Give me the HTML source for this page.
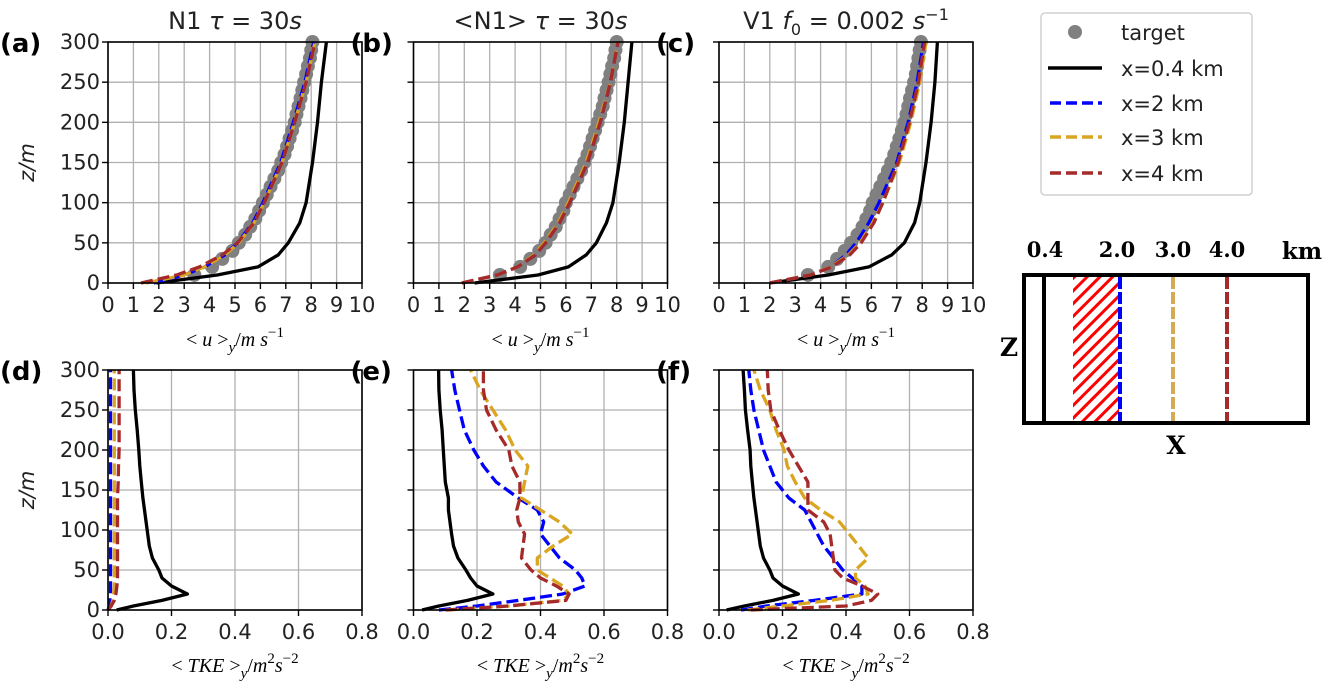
<!DOCTYPE html>
<html><head><meta charset="utf-8">
<style>
html,body{margin:0;padding:0;background:#fff;}
svg{display:block;}
text{font-family:"DejaVu Sans","Liberation Sans",sans-serif;}
.serif{font-family:"DejaVu Serif","Liberation Serif",serif;}
</style></head>
<body>
<svg id="fig" width="1323" height="689" viewBox="0 0 1323 689" xmlns="http://www.w3.org/2000/svg">
<defs>
<pattern id="hatch" patternUnits="userSpaceOnUse" width="9" height="9" patternTransform="rotate(45)">
<rect width="9" height="9" fill="#fff"/><rect width="3" height="9" fill="#ff0000"/>
</pattern>
</defs>
<g>
<rect x="1041" y="13" width="211" height="182" rx="4" fill="#fff" stroke="#d0d0d0" stroke-width="1.5"/>
<circle cx="1075" cy="32" r="7" fill="#808080"/>
<text x="1121" y="40" font-size="21" fill="#222">target</text>
<line x1="1048" y1="68" x2="1102" y2="68" stroke="#000" stroke-width="3.5"/>
<text x="1121" y="76" font-size="21" fill="#222">x=0.4 km</text>
<line x1="1050" y1="103" x2="1102" y2="103" stroke="#0000ff" stroke-width="3.5" stroke-dasharray="11,5"/>
<text x="1121" y="111" font-size="21" fill="#222">x=2 km</text>
<line x1="1050" y1="137" x2="1102" y2="137" stroke="#daa520" stroke-width="3.5" stroke-dasharray="11,5"/>
<text x="1121" y="145" font-size="21" fill="#222">x=3 km</text>
<line x1="1050" y1="173" x2="1102" y2="173" stroke="#a52a2a" stroke-width="3.5" stroke-dasharray="11,5"/>
<text x="1121" y="181" font-size="21" fill="#222">x=4 km</text>
</g>
<g>
<rect x="1073" y="276" width="46" height="146" fill="url(#hatch)"/>
<rect x="1024" y="275" width="284" height="148" fill="none" stroke="#000" stroke-width="4"/>
<line x1="1044" y1="275" x2="1044" y2="423" stroke="#000" stroke-width="4"/>
<line x1="1120" y1="277" x2="1120" y2="421" stroke="#0000ff" stroke-width="4" stroke-dasharray="12,3"/>
<line x1="1173" y1="277" x2="1173" y2="421" stroke="#d4aa55" stroke-width="4" stroke-dasharray="12,3"/>
<line x1="1227" y1="277" x2="1227" y2="421" stroke="#a52a2a" stroke-width="4" stroke-dasharray="12,3"/>
<g font-weight="bold" font-size="21" text-anchor="middle" fill="#000">
<text x="1045" y="257" class="serif">0.4</text>
<text x="1117" y="257" class="serif">2.0</text>
<text x="1173" y="257" class="serif">3.0</text>
<text x="1227" y="257" class="serif">4.0</text>
<text x="1302" y="259" class="serif" font-size="23">km</text>
<text x="1009" y="356" class="serif" font-size="25">Z</text>
<text x="1176" y="454" class="serif" font-size="25">X</text>
</g>
</g>
</svg>
<script>
// ---- data ----
const zTop = [0,10,20,35,50,75,100,150,200,250,300];
const zTarget = [10,20,30,40,50,60,70,80,90,100,110,120,130,140,150,160,170,180,190,200,210,220,230,240,250,260,270,280,290,300];
const zBot = [0,5,12,20,30,40,50,65,80,95,110,125,140,160,180,200,225,250,275,300];
const uTicks = [0,1,2,3,4,5,6,7,8,9,10];
const tkeTicks = [0.0,0.2,0.4,0.6,0.8];
const tkeTickLabels = ["0.0","0.2","0.4","0.6","0.8"];
const zTicks = [0,50,100,150,200,250,300];

const aTarget = [3.4,4.1,4.5,4.9,5.15,5.4,5.6,5.8,5.95,6.1,6.25,6.4,6.55,6.7,6.82,6.95,7.05,7.15,7.25,7.35,7.42,7.5,7.58,7.65,7.72,7.8,7.87,7.95,8.0,8.05];
const aBlack = [1.9,4.3,5.9,6.7,7.1,7.55,7.8,8.05,8.25,8.4,8.6];
const aBlue = [1.8,3.0,3.8,4.6,5.1,5.7,6.1,6.8,7.3,7.75,8.1];
const aGold = [1.5,3.0,3.8,4.6,5.15,5.75,6.15,6.85,7.35,7.8,8.15];
const aRed = [1.3,2.7,3.6,4.5,5.1,5.75,6.15,6.85,7.35,7.8,8.15];

const bTarget = [3.4,4.2,4.6,4.95,5.2,5.4,5.6,5.75,5.9,6.0,6.15,6.3,6.45,6.6,6.72,6.85,6.95,7.05,7.15,7.25,7.35,7.45,7.52,7.6,7.68,7.75,7.82,7.9,7.95,8.0];
const bBlack = [2.4,4.9,6.1,6.8,7.2,7.6,7.85,8.1,8.3,8.45,8.6];
const bBlue = [1.9,3.3,4.1,4.8,5.2,5.75,6.15,6.85,7.35,7.75,8.05];
const bGold = [1.9,3.3,4.1,4.75,5.15,5.7,6.1,6.8,7.3,7.75,8.05];
const bRed = [1.9,3.3,4.1,4.8,5.2,5.75,6.15,6.85,7.35,7.75,8.05];

const cTarget = [3.5,4.3,4.65,4.95,5.2,5.45,5.65,5.8,5.95,6.05,6.2,6.35,6.5,6.65,6.78,6.9,7.0,7.1,7.2,7.3,7.38,7.45,7.52,7.6,7.68,7.75,7.8,7.85,7.9,7.95];
const cBlack = [2.0,4.3,5.9,6.8,7.3,7.7,7.9,8.15,8.35,8.5,8.6];
const cBlue = [2.0,3.6,4.4,5.0,5.4,5.9,6.3,7.0,7.45,7.8,8.05];
const cGold = [2.0,3.6,4.4,5.1,5.55,6.05,6.45,7.1,7.55,7.9,8.15];
const cRed = [2.0,3.6,4.45,5.15,5.6,6.1,6.45,7.05,7.5,7.85,8.1];

const dBlack = [0.027,0.08,0.17,0.25,0.2,0.17,0.16,0.14,0.13,0.125,0.12,0.115,0.11,0.105,0.1,0.097,0.092,0.086,0.082,0.08];
const dBlue = [0.0,0.004,0.006,0.008,0.008,0.008,0.008,0.008,0.008,0.008,0.008,0.008,0.008,0.008,0.008,0.008,0.008,0.008,0.008,0.008];
const dGold = [0.0,0.01,0.015,0.018,0.02,0.02,0.02,0.02,0.02,0.02,0.02,0.02,0.02,0.02,0.02,0.02,0.02,0.02,0.02,0.02];
const dRed = [0.0,0.01,0.02,0.025,0.028,0.03,0.03,0.03,0.03,0.03,0.03,0.03,0.03,0.032,0.033,0.035,0.035,0.035,0.035,0.035];

const eBlack = [0.027,0.08,0.17,0.25,0.2,0.18,0.165,0.14,0.126,0.12,0.115,0.11,0.11,0.1,0.097,0.094,0.09,0.084,0.08,0.079];
const eBlue = [0.08,0.2,0.33,0.47,0.54,0.53,0.51,0.46,0.43,0.40,0.41,0.39,0.33,0.26,0.22,0.19,0.16,0.145,0.13,0.12];
const eGold = [0.105,0.3,0.47,0.49,0.47,0.43,0.39,0.39,0.44,0.50,0.46,0.40,0.34,0.35,0.36,0.32,0.29,0.25,0.21,0.18];
const eRed = [0.1,0.3,0.48,0.49,0.45,0.40,0.37,0.34,0.345,0.35,0.33,0.325,0.335,0.335,0.31,0.30,0.26,0.23,0.22,0.22];

const fBlack = [0.024,0.08,0.17,0.25,0.2,0.17,0.16,0.14,0.13,0.125,0.12,0.115,0.11,0.105,0.1,0.098,0.09,0.083,0.08,0.076];
const fBlue = [0.07,0.15,0.3,0.45,0.45,0.42,0.39,0.36,0.33,0.31,0.29,0.27,0.22,0.18,0.16,0.14,0.125,0.11,0.1,0.094];
const fGold = [0.09,0.2,0.35,0.47,0.46,0.43,0.43,0.47,0.44,0.41,0.38,0.32,0.27,0.24,0.215,0.205,0.18,0.16,0.13,0.11];
const fRed = [0.1,0.4,0.48,0.5,0.45,0.39,0.365,0.36,0.355,0.35,0.33,0.28,0.28,0.28,0.25,0.22,0.19,0.163,0.155,0.152];

// ---- drawing ----
const NS = "http://www.w3.org/2000/svg";
const svg = document.getElementById('fig');
function mk(tag, attrs, parent) {
  const e = document.createElementNS(NS, tag);
  for (const k in attrs) e.setAttribute(k, attrs[k]);
  (parent || svg).appendChild(e);
  return e;
}
const COLORS = {black:'#000000', blue:'#0000ff', gold:'#daa520', red:'#a52a2a'};

function panel(opt) {
  const L = opt.left, T = opt.top, W = 254, H = opt.h;
  const xs = v => L + (v - opt.xmin) / (opt.xmax - opt.xmin) * W;
  const ys = z => T + H - z / 300 * H;
  const g = mk('g', {});
  
  
  opt.xticks.forEach(v => {
    const l = mk('line', {x1: xs(v), x2: xs(v), y1: T, y2: T + H, stroke: '#b0b0b0', 'stroke-width': 1.3}, g);
    
    
  });
  zTicks.forEach(z => {
    const l = mk('line', {x1: L, x2: L + W, y1: ys(z), y2: ys(z), stroke: '#b0b0b0', 'stroke-width': 1.3}, g);
    
    
  });
  if (opt.target) {
    zTarget.forEach((z, i) => {
      const c = mk('circle', {cx: xs(opt.target[i]), cy: ys(z), r: 7, fill: '#808080'}, g);
      
      
    });
  }
  opt.series.forEach(s => {
    const pts = s.vals.map((v, i) => xs(v).toFixed(1) + ',' + ys(opt.z[i]).toFixed(1)).join(' ');
    const attrs = {points: pts, fill: 'none', stroke: COLORS[s.c], 'stroke-width': 3.3, 'stroke-linejoin': 'round'};
    if (s.c !== 'black') attrs['stroke-dasharray'] = '12,5';
    const p = mk('polyline', attrs, g);
    
    
  });
  const fr = mk('rect', {x: L, y: T, width: W, height: H, fill: 'none', stroke: '#000', 'stroke-width': 1.6}, g);
  
  
  opt.xticks.forEach((v, i) => {
    mk('line', {x1: xs(v), x2: xs(v), y1: T + H, y2: T + H + 6, stroke: '#000', 'stroke-width': 1.4}, g);
    const t = mk('text', {x: xs(v), y: T + H + 29, 'font-size': 21, 'text-anchor': 'middle', fill: '#222'}, g);
    t.textContent = opt.xlabels[i];
    
    
  });
  zTicks.forEach(z => {
    mk('line', {x1: L - 6, x2: L, y1: ys(z), y2: ys(z), stroke: '#000', 'stroke-width': 1.4}, g);
    if (opt.ylab) {
      const t = mk('text', {x: L - 8, y: ys(z) + 7, 'font-size': 21, 'text-anchor': 'end', fill: '#222'}, g);
      t.textContent = String(z);
      
      
    }
  });
  if (opt.ylab) {
    const t = mk('text', {x: 0, y: 0, 'font-size': 21, 'text-anchor': 'middle', 'font-style': 'italic', fill: '#222', transform: 'translate(' + (L - 74) + ',' + (T + H / 2) + ') rotate(-90)'}, g);
    t.textContent = 'z/m';
    
    
  }
  const pl = mk('text', {x: opt.ylab ? L - 108 : L - 63, y: T + 10, 'font-size': 26, 'font-weight': 'bold', fill: '#000'}, g);
  pl.textContent = '(' + opt.id + ')';
  
  
  const xl = mk('text', {x: L + W / 2, y: opt.xlabY, 'font-size': 20, 'text-anchor': 'middle', fill: '#000', style: 'font-family:"Liberation Serif","DejaVu Serif",serif'}, g);
  
  
  if (opt.kind === 'u') {
    xl.innerHTML = '&lt; <tspan font-style="italic">u</tspan> &gt;<tspan font-size="15" dy="6" font-style="italic">y</tspan><tspan dy="-6">/</tspan><tspan font-style="italic">m s</tspan><tspan font-size="15" dy="-9">−1</tspan>';
  } else {
    xl.innerHTML = '&lt; <tspan font-style="italic">TKE</tspan> &gt;<tspan font-size="15" dy="6" font-style="italic">y</tspan><tspan dy="-6">/</tspan><tspan font-style="italic">m</tspan><tspan font-size="15" dy="-9">2</tspan><tspan dy="9" font-style="italic">s</tspan><tspan font-size="15" dy="-9">−2</tspan>';
  }
  if (opt.title) {
    const tt = mk('text', {x: L + W / 2, y: T - 13, 'font-size': 24, 'text-anchor': 'middle', fill: '#222'}, g);
    tt.innerHTML = opt.title;
    
    
  }
}

const uLabels = uTicks.map(String);
const topCommon = {top: 42, h: 241, xmin: 0, xmax: 10, xticks: uTicks, xlabels: uLabels, z: zTop, kind: 'u', xlabY: 346};
const botCommon = {top: 370, h: 240, xmin: 0, xmax: 0.8, xticks: tkeTicks, xlabels: tkeTickLabels, z: zBot, kind: 'tke', xlabY: 672};

function ser(bk, bl, go, rd) {
  return [
    {c: 'black', vals: bk, name: 'x0.4-line'},
    {c: 'blue', vals: bl, name: 'x2-line'},
    {c: 'gold', vals: go, name: 'x3-line'},
    {c: 'red', vals: rd, name: 'x4-line'}
  ];
}

panel(Object.assign({}, topCommon, {id: 'a', left: 108, ylab: true, target: aTarget, series: ser(aBlack, aBlue, aGold, aRed),
  title: 'N1 <tspan font-style="italic">τ</tspan> = 30<tspan font-style="italic">s</tspan>'}));
panel(Object.assign({}, topCommon, {id: 'b', left: 413.5, ylab: false, target: bTarget, series: ser(bBlack, bBlue, bGold, bRed),
  title: '&lt;N1&gt; <tspan font-style="italic">τ</tspan> = 30<tspan font-style="italic">s</tspan>'}));
panel(Object.assign({}, topCommon, {id: 'c', left: 719, ylab: false, target: cTarget, series: ser(cBlack, cBlue, cGold, cRed),
  title: 'V1 <tspan font-style="italic">f</tspan><tspan font-size="16" dy="6">0</tspan><tspan dy="-6"> = 0.002 </tspan><tspan font-style="italic">s</tspan><tspan font-size="16" dy="-9">−1</tspan>'}));
panel(Object.assign({}, botCommon, {id: 'd', left: 108, ylab: true, series: ser(dBlack, dBlue, dGold, dRed)}));
panel(Object.assign({}, botCommon, {id: 'e', left: 413.5, ylab: false, series: ser(eBlack, eBlue, eGold, eRed)}));
panel(Object.assign({}, botCommon, {id: 'f', left: 719, ylab: false, series: ser(fBlack, fBlue, fGold, fRed)}));
</script>
</body></html>
